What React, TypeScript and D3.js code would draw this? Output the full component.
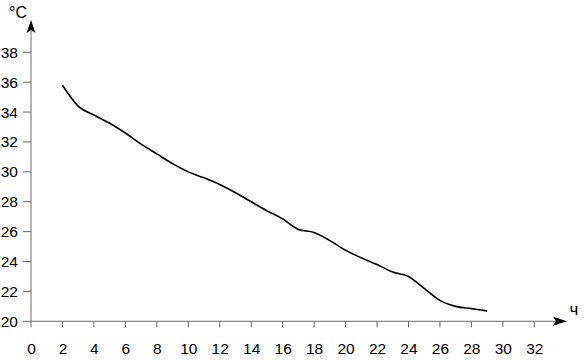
import React from "react";
import * as d3 from "d3";

const hours = [2, 3, 4, 5, 6, 7, 8, 9, 10, 11, 12, 13, 14, 15, 16, 17, 18, 19, 20, 21, 22, 23, 24, 25, 26, 27, 28, 29];
const temps = [35.8, 34.4, 33.8, 33.25, 32.6, 31.85, 31.2, 30.55, 30.0, 29.6, 29.15, 28.6, 28.0, 27.4, 26.85, 26.15, 25.95, 25.4, 24.75, 24.25, 23.8, 23.3, 23.0, 22.2, 21.4, 21.0, 20.85, 20.7];
const xTicks = [0, 2, 4, 6, 8, 10, 12, 14, 16, 18, 20, 22, 24, 26, 28, 30, 32];
const yTicks = [20, 22, 24, 26, 28, 30, 32, 34, 36, 38];
const yUnit = "°C";
const xUnit = "ч";

export default function App() {
  const W = 584, H = 360;
  const x = d3.scaleLinear().domain([0, 32]).range([31, 534.3]);
  const y = d3.scaleLinear().domain([20, 38]).range([321.3, 52.3]);
  const line = d3
    .line<number>()
    .x((_, i) => x(hours[i]))
    .y((d) => y(d))
    .curve(d3.curveMonotoneX);
  const x0 = x(0), y0 = y(20);
  const axisColor = "#666";
  const font = "Liberation Sans, Arial, sans-serif";
  return (
    <svg width={W} height={H} style={{ position: "absolute", left: 0, top: 0, background: "#fff" }}>
      {/* y axis */}
      <line x1={x0} y1={y0} x2={x0} y2={28} stroke={axisColor} strokeWidth={1} />
      <path d={`M${x0},20 L${x0 + 4.5},33 L${x0},30 L${x0 - 4.5},33 Z`} fill="#000" />
      {/* x axis */}
      <line x1={x0} y1={y0} x2={560} y2={y0} stroke={axisColor} strokeWidth={1} />
      <path d={`M567,${y0} L553,${y0 - 4.5} L556,${y0} L553,${y0 + 4.5} Z`} fill="#000" />
      {yTicks.map((t) => (
        <g key={"y" + t}>
          <line x1={x0 - 8} x2={x0} y1={y(t)} y2={y(t)} stroke={axisColor} />
          <text x={18} y={y(t) + 5.5} textAnchor="end" fontFamily={font} fontSize={15.5} fill="#000">
            {t}
          </text>
        </g>
      ))}
      {xTicks.map((t) => (
        <g key={"x" + t}>
          <line x1={x(t)} x2={x(t)} y1={y0} y2={y0 + 6} stroke={axisColor} />
          <text x={x(t) + 0.5} y={353.5} textAnchor="middle" fontFamily={font} fontSize={15.5} fill="#000">
            {t}
          </text>
        </g>
      ))}
      <text x={9} y={18} fontFamily={font} fontSize={16} fill="#000">
        {yUnit}
      </text>
      <text x={569.5} y={315} fontFamily={font} fontSize={17} fill="#000">
        {xUnit}
      </text>
      <path d={line(temps) || ""} fill="none" stroke="#000" strokeWidth={1.6} strokeLinejoin="round" />
    </svg>
  );
}
